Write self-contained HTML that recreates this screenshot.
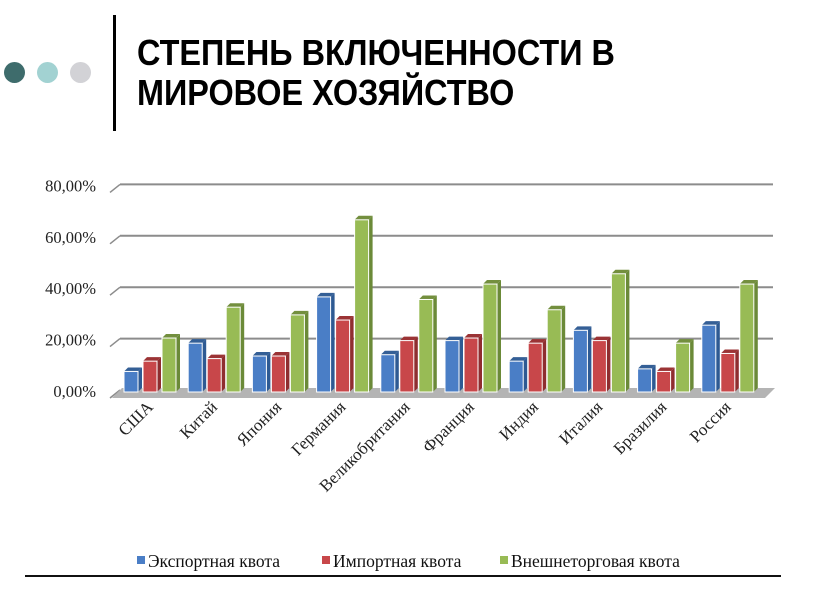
<!DOCTYPE html>
<html><head><meta charset="utf-8"><style>
body{margin:0;width:813px;height:590px;background:#fff;overflow:hidden;position:relative;font-family:"Liberation Sans",sans-serif}
.dot{position:absolute;width:21px;height:21px;border-radius:50%;top:62px}
.title{position:absolute;left:137px;top:33px;font:bold 36px/40px "Liberation Sans",sans-serif;color:#000;transform:scaleX(0.9);transform-origin:0 0;white-space:nowrap}
</style></head><body>
<div class="dot" style="left:4px;background:#3e6c6c"></div>
<div class="dot" style="left:37px;background:#a2d2d2"></div>
<div class="dot" style="left:70px;background:#d2d2d6"></div>
<div style="position:absolute;left:113px;top:15px;width:3px;height:116px;background:#000"></div>
<div class="title">СТЕПЕНЬ ВКЛЮЧЕННОСТИ В<br>МИРОВОЕ ХОЗЯЙСТВО</div>
<svg id="chart" width="813" height="590" style="position:absolute;left:0;top:0"></svg>
<script>
const categories=["США","Китай","Япония","Германия","Великобритания","Франция","Индия","Италия","Бразилия","Россия"];
const exportQuota=[8,19,14,37,14.5,20,12,24,9,26];
const importQuota=[12,13,14,28,20,21,19,20,8,15];
const tradeQuota=[21,33,30,67,36,42,32,46,19,42];
const tickLabels=["0,00%","20,00%","40,00%","60,00%","80,00%"];
const tickValues=[0,20,40,60,80];
const seriesNames=["Экспортная квота","Импортная квота","Внешнеторговая квота"];
const NS="http://www.w3.org/2000/svg";
const svg=document.getElementById('chart');
function el(t,a,p){const e=document.createElementNS(NS,t);for(const k in a)e.setAttribute(k,a[k]);(p||svg).appendChild(e);return e;}
const base=392, pxPer=51.4/20;
const y=v=>base-v*pxPer;
const x0=124, pitch=64.2;
const xCat=i=>x0+i*pitch;
tickValues.forEach((v,i)=>{
  const gy=y(v)+1-4*0;
  const by=y(v)-2;
  if(v>0){const g=el('line',{x1:120,y1:by,x2:773,y2:by,stroke:'#8c8c8c','stroke-width':2});
  }
  const d=el('line',{x1:110,y1:by+8,x2:120,y2:by,stroke:'#8c8c8c','stroke-width':1.5});
  
  const t=el('text',{x:96,y:by+7,'text-anchor':'end','font-family':'Liberation Serif,serif','font-size':16.5,fill:'#222'});
  t.textContent=tickLabels[i];
  
});
const fl=el('polygon',{points:`112,398 765,398 775,388 122,388`,fill:'#b4b4b4'});

const cols=[["#4a7ec6","#2e5a93","#345f96"],["#c8474a","#8f2d2f","#9b3335"],["#98bb55","#6b8a38","#738f3e"]];
const series=[exportQuota,importQuota,tradeQuota];
const bw=14, sd=4;
categories.forEach((c,i)=>{
  series.forEach((s,j)=>{
    const bx=xCat(i)+j*19, top=y(s[i]);
    const g=el('g',{});
    
    
    el('polygon',{points:`${bx+bw},${top} ${bx+bw+sd},${top-sd} ${bx+bw+sd},${base-sd} ${bx+bw},${base}`,fill:cols[j][1]},g);
    el('polygon',{points:`${bx},${top} ${bx+sd},${top-sd} ${bx+bw+sd},${top-sd} ${bx+bw},${top}`,fill:cols[j][2]},g);
    el('rect',{x:bx,y:top,width:bw,height:base-top,fill:cols[j][0],stroke:'#fff','stroke-width':1},g);
  });
  const lx=xCat(i)+30, ly=408;
  const t=el('text',{x:lx,y:ly,'text-anchor':'end','font-family':'Liberation Serif,serif','font-size':17,fill:'#222',transform:`rotate(-45 ${lx} ${ly})`});
  t.textContent=c;
  
});
const lg=[[137,"#4a7ec6"],[322,"#c8474a"],[500,"#98bb55"]];
lg.forEach((l,i)=>{
  const g=el('g',{});
  
  el('rect',{x:l[0],y:556,width:8,height:8,fill:l[1]},g);
  const t=el('text',{x:l[0]+11,y:567,'font-family':'Liberation Serif,serif','font-size':17.5,fill:'#111'},g);
  t.textContent=seriesNames[i];
});
const bl=el('line',{x1:25,y1:576,x2:781,y2:576,stroke:'#111','stroke-width':2});

</script>
</body></html>
